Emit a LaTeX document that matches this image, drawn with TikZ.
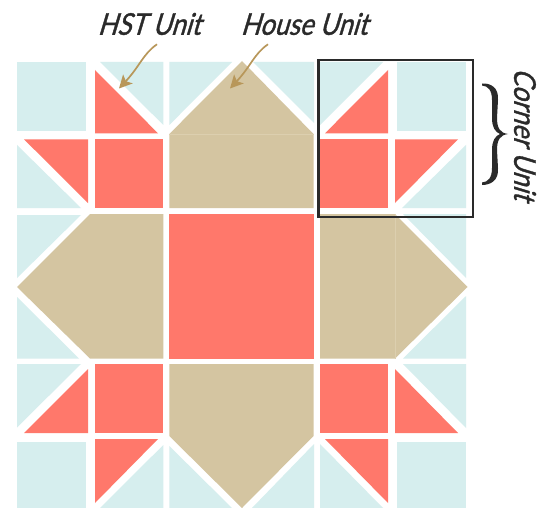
\documentclass[tikz,border=0pt]{standalone}
\usepackage{fontspec}
\newfontfamily\handfont[ItalicFont=*,ItalicFeatures={FakeSlant=0.3},FakeStretch=0.85,FakeBold=1.2]{Lato}
\usepackage{tikz}
\usetikzlibrary{arrows.meta}
\definecolor{lightc}{HTML}{D6EEEE}
\definecolor{redc}{HTML}{FF786B}
\definecolor{tanc}{HTML}{D4C5A1}
\definecolor{seamc}{HTML}{DCCFAF}
\definecolor{arrowc}{HTML}{B8975A}
\definecolor{inkc}{HTML}{2A2A2A}
\tikzset{
  lt/.style={fill=lightc},
  rd/.style={fill=redc},
  tn/.style={fill=tanc},
  seam/.style={draw=seamc, line width=0.5pt},
  lbl/.style={font=\handfont\itshape\fontsize{30}{30}\selectfont, text=inkc, inner sep=0pt},
  arr/.style={-{Stealth[length=13pt, width=13pt, inset=3pt]}, draw=arrowc, line width=1.7pt},
  unitbox/.style={draw=inkc, line width=2.2pt}
}
\begin{document}
\begin{tikzpicture}[x=1pt, y=-1pt]
  \useasboundingbox[fill=white] (0,0) rectangle (549,508);
  % top row
  \path[lt] (17,62) rectangle (86,131);
  \path[lt] (100,62) -- (163.3,62) -- (163.3,125) -- cycle;
  \path[rd] (95,70) -- (158,133.3) -- (95,133.3) -- cycle;
  \path[lt] (169.3,62) -- (232,62) -- (169.3,125) -- cycle;
  \path[lt] (253,62) -- (314,62) -- (314,123) -- cycle;
  \path[lt] (320,62) -- (383,62) -- (320,125) -- cycle;
  \path[rd] (388,70) -- (388,133.3) -- (325,133.3) -- cycle;
  \path[lt] (397,62) rectangle (466,131);
  % second row
  \path[rd] (24,139.3) -- (88,139.3) -- (88,203) -- cycle;
  \path[lt] (17,145) -- (81,208) -- (17,208) -- cycle;
  \path[rd] (95,139.3) rectangle (163.3,208);
  \path[rd] (320,139.3) rectangle (388,208);
  \path[rd] (395,139.3) -- (458,139.3) -- (395,203) -- cycle;
  \path[lt] (466,145) -- (466,208) -- (402,208) -- cycle;
  % houses
  \path[tn] (169.3,134) -- (242,61) -- (313.5,134) -- (313.5,208) -- (169.3,208) -- cycle;
  \path[tn] (17,287) -- (90,214) -- (163.3,214) -- (163.3,358.5) -- (90,358.5) -- cycle;
  \path[tn] (320,214) -- (395,214) -- (467.5,287) -- (395,358.5) -- (320,358.5) -- cycle;
  \path[tn] (169.3,364) -- (313.5,364) -- (313.5,436) -- (242,508) -- (169.3,436) -- cycle;
  \draw[seam] (169.3,134) -- (313.5,134);
  \draw[seam] (395,214) -- (395,358.5);
  \path[rd] (169.3,214) rectangle (313.5,358.5);
  % middle row
  \path[lt] (17,215) -- (81,215) -- (17,278) -- cycle;
  \path[lt] (17,297) -- (17,358.5) -- (79,358.5) -- cycle;
  \path[lt] (403,214) -- (466,214) -- (466,278) -- cycle;
  \path[lt] (466,296) -- (466,358.5) -- (403,358.5) -- cycle;
  % fourth row
  \path[lt] (17,364) -- (81,364) -- (17,427.5) -- cycle;
  \path[rd] (88,369) -- (88,433) -- (24,433) -- cycle;
  \path[rd] (95,364) rectangle (163.3,433);
  \path[rd] (320,364) rectangle (388,433);
  \path[rd] (395,369) -- (458,433) -- (395,433) -- cycle;
  \path[lt] (403,364) -- (466,364) -- (466,428) -- cycle;
  % bottom row
  \path[lt] (17,442) rectangle (86,508);
  \path[rd] (95,439) -- (158,439) -- (95,503) -- cycle;
  \path[lt] (163.3,445) -- (163.3,508) -- (100,508) -- cycle;
  \path[lt] (169.3,446) -- (232,508) -- (169.3,508) -- cycle;
  \path[lt] (314,444) -- (314,508) -- (252,508) -- cycle;
  \path[lt] (320,444) -- (383,508) -- (320,508) -- cycle;
  \path[rd] (325,439) -- (388,439) -- (388,503) -- cycle;
  \path[lt] (397,442) rectangle (466,508);
  % labels and pointers
  \node[lbl] (hst) at (149,24) {HST Unit};
  \node[lbl] (house) at (304,24) {House Unit};
  \node[lbl, rotate=-90] (corner) at (525,134) {Corner Unit};
  \coordinate (hsttip) at (119,88.5);
  \coordinate (housetip) at (230,88.5);
  \draw[arr] ([xshift=8pt, yshift=-9pt]hst.south) .. controls (143,54) and (140,66) .. (hsttip);
  \draw[arr] ([xshift=-36pt, yshift=-9pt]house.south) .. controls (254,54) and (251,66) .. (housetip);
  \node[unitbox, minimum width=154.5pt, minimum height=157pt, inner sep=0pt] (unit) at (395.7,138.5) {};
  \fill[inkc] (482,83.5) .. controls (490,83) and (499,87) .. (498,100) -- (497,118) .. controls (497,128) and (500,133) .. (508,134) .. controls (500,135) and (497,140) .. (497,150) -- (498,168) .. controls (499,181) and (490,185) .. (482,185) -- (482,182.5) .. controls (488,182) and (492,178) .. (492,168) -- (492,150) .. controls (492,141) and (495,136) .. (500,134) .. controls (495,132) and (492,127) .. (492,118) -- (492,100) .. controls (492,90) and (488,86) .. (482,85.5) -- cycle;
\end{tikzpicture}
\end{document}
